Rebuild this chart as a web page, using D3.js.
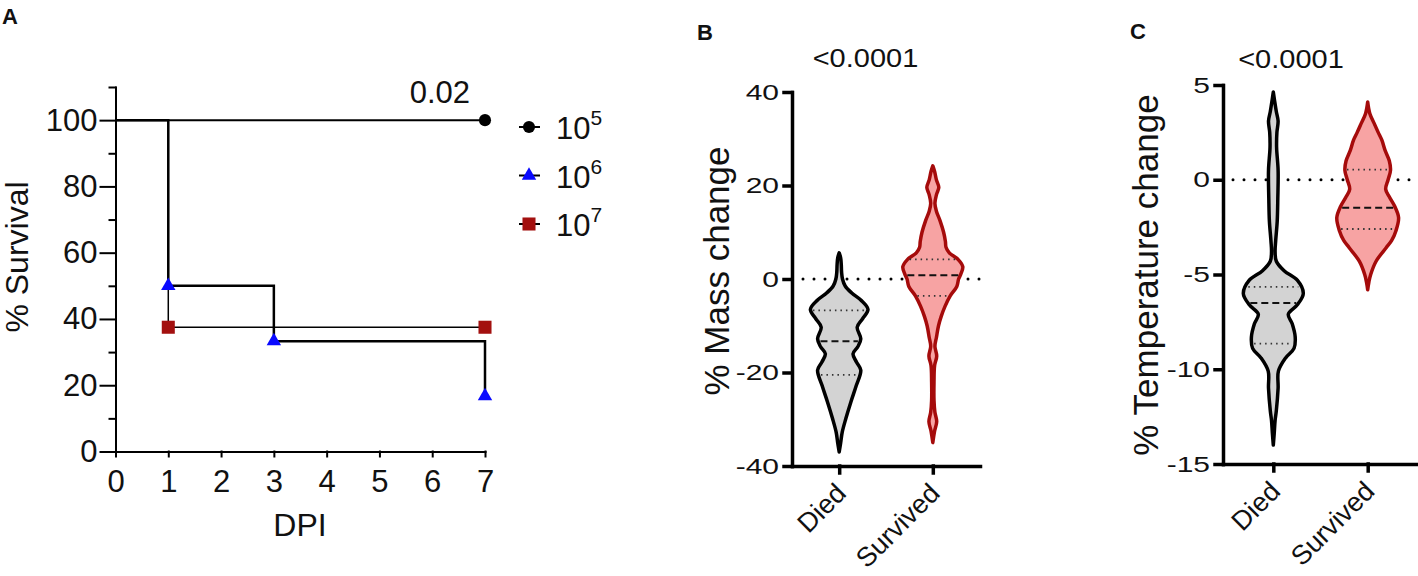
<!DOCTYPE html>
<html>
<head>
<meta charset="utf-8">
<script src="https://cdn.jsdelivr.net/npm/d3@7"></script>
<style>
body { margin: 0; background: #fff; }
svg text { font-family: "Liberation Sans", Arial, sans-serif; fill: #111; }
</style>
</head>
<body>
<svg id="fig" width="1418" height="576"></svg>
<script>
// ---------- Panel A data: survival by inoculum dose ----------
const doseLabels = ["5", "6", "7"];          // exponent of 10
const dpiTicks = [0, 1, 2, 3, 4, 5, 6, 7];
const survMajor = [0, 20, 40, 60, 80, 100];
const survMinor = [10, 30, 50, 70, 90, 110];
const days5 = [0, 7],       surv5 = [100, 100];
const days6 = [0, 1, 3, 7], surv6 = [100, 50, 33.3, 16.7];
const days7 = [0, 1, 7],    surv7 = [100, 37.5, 37.5];
const survivalP = "0.02";

// ---------- Panels B and C data ----------
const outcomes = ["Died", "Survived"];
const massTicks = [-40, -20, 0, 20, 40];
const tempTicks = [-15, -10, -5, 0, 5];
const massP = "<0.0001";
const tempP = "<0.0001";
// violin outlines: [value, relative density]
const massDied = [[5.6,0],[4.5,0.05],[3,0.07],[1.5,0.08],[0,0.11],[-1.5,0.2],[-3,0.42],[-4.5,0.72],[-6.5,0.96],[-8.5,0.78],[-10.3,0.6],[-12.8,0.72],[-14.5,0.62],[-16,0.46],[-17.8,0.58],[-19.5,0.72],[-22.8,0.57],[-26.3,0.39],[-29.9,0.22],[-32.8,0.1],[-35,0.05],[-37,0]];
const massSurvived = [[24.2,0],[23,0.06],[21.2,0.12],[19.6,0.2],[18,0.12],[16.2,0.07],[14.5,0.12],[12.5,0.24],[10,0.36],[8,0.42],[6.8,0.44],[5.6,0.55],[4.2,0.84],[2.6,1.0],[1,0.93],[0,0.86],[-1.6,0.8],[-3.6,0.58],[-5.8,0.41],[-8,0.28],[-10,0.19],[-12.5,0.12],[-14.4,0.07],[-16.5,0.13],[-18.5,0.06],[-22,0.04],[-26,0.04],[-28.5,0.07],[-30.5,0.13],[-32.5,0.06],[-35,0]];
const tempDied = [[4.63,0],[4.2,0.04],[3.6,0.1],[3.1,0.16],[2.5,0.12],[1.7,0.11],[0.5,0.16],[-1,0.15],[-2.2,0.13],[-3.2,0.08],[-3.8,0.06],[-4.3,0.1],[-4.8,0.36],[-5.3,0.8],[-6,1.0],[-6.6,0.8],[-7.1,0.5],[-7.6,0.63],[-8.3,0.73],[-8.9,0.69],[-9.4,0.41],[-10.1,0.17],[-11,0.16],[-12.2,0.1],[-12.7,0.06],[-13.4,0.03],[-14,0]];
const tempSurvived = [[4.1,0],[3.5,0.07],[2.96,0.22],[2.5,0.35],[2.1,0.47],[1.55,0.58],[1,0.72],[0.5,0.76],[0,0.68],[-0.5,0.6],[-0.9,0.72],[-1.4,0.9],[-2,1.03],[-2.7,0.94],[-3.2,0.8],[-3.6,0.61],[-4.3,0.28],[-5,0.1],[-5.4,0.04],[-5.8,0]];
// quartiles: [upper, median, lower]
const massDiedQ = [-6.7, -13.3, -20.5];
const massSurvivedQ = [4.2, 0.8, -3.6];
const tempDiedQ = [-5.65, -6.5, -8.65];
const tempSurvivedQ = [0.53, -1.48, -2.6];

const svg = d3.select("#fig");
const FONT = "'Liberation Sans', Arial, sans-serif";
const plain = d => String(d);   // hyphen minus, no decimals

function styleAxis(g, width, fontSize) {
  g.attr("font-family", FONT).attr("font-size", fontSize).attr("color", "#000");
  g.selectAll("path, line").attr("stroke-width", width).attr("stroke-linecap", "square");
}

// ================= Panel A =================
const xA = d3.scaleLinear().domain([0, 7]).range([115.5, 485]);
const yA = d3.scaleLinear().domain([0, 110]).range([451.5, 87]);

svg.append("text").text("A").attr("x", 2).attr("y", 24)
  .attr("font-size", 22).attr("font-weight", "bold");

svg.append("g").attr("transform", "translate(115.5,0)")
  .call(d3.axisLeft(yA).tickValues(survMajor).tickFormat(plain).tickSize(15).tickPadding(3).tickSizeOuter(0))
  .call(g => styleAxis(g, 2, 31));
svg.append("g").attr("transform", "translate(115.5,0)")
  .call(d3.axisLeft(yA).tickValues(survMinor).tickSize(6).tickFormat("").tickSizeOuter(0))
  .call(g => { styleAxis(g, 2, 31); g.select(".domain").remove(); });
svg.append("g").attr("transform", "translate(0,451.5)")
  .call(d3.axisBottom(xA).tickValues(dpiTicks).tickFormat(plain).tickSize(5).tickPadding(13).tickSizeOuter(0))
  .call(g => styleAxis(g, 2, 31));

svg.append("text").text("DPI").attr("x", 300).attr("y", 536)
  .attr("text-anchor", "middle").attr("font-size", 32);
svg.append("text").text("% Survival")
  .attr("transform", "translate(28,257) rotate(-90)")
  .attr("text-anchor", "middle").attr("font-size", 32);

const kmLine = d3.line().x(d => xA(d[0])).y(d => yA(d[1])).curve(d3.curveStepAfter);
const groups = [
  { days: days7, surv: surv7, sym: d3.symbolSquare, size: 170, color: "#a3100f", lw: 1.5 },
  { days: days6, surv: surv6, sym: d3.symbolTriangle, size: 90, color: "#0a0aff", lw: 2.5 },
  { days: days5, surv: surv5, sym: d3.symbolCircle, size: 115, color: "#000", lw: 2 }
];
groups.forEach(gr => {
  const pts = d3.zip(gr.days, gr.surv);
  svg.append("path").datum(pts).attr("d", kmLine)
    .attr("fill", "none").attr("stroke", "#000").attr("stroke-width", gr.lw);
  svg.append("g").selectAll("path").data(pts.slice(1)).join("path")
    .attr("transform", d => `translate(${xA(d[0])},${yA(d[1])})`)
    .attr("d", d3.symbol(gr.sym, gr.size)).attr("fill", gr.color);
});

svg.append("text").text(survivalP).attr("x", 470).attr("y", 103)
  .attr("text-anchor", "end").attr("font-size", 31);

// legend
const legendSyms = [
  { sym: d3.symbolCircle, size: 115, color: "#000" },
  { sym: d3.symbolTriangle, size: 90, color: "#0a0aff" },
  { sym: d3.symbolSquare, size: 170, color: "#a3100f" }
];
const legY = d3.scalePoint().domain(doseLabels).range([127, 224]);
doseLabels.forEach((e, i) => {
  const y = legY(e);
  svg.append("line").attr("x1", 519).attr("x2", 540).attr("y1", y).attr("y2", y)
    .attr("stroke", "#000").attr("stroke-width", 2);
  svg.append("path").attr("transform", `translate(529,${y})`)
    .attr("d", d3.symbol(legendSyms[i].sym, legendSyms[i].size)).attr("fill", legendSyms[i].color);
  const t = svg.append("text").attr("x", 556).attr("y", y + 12).attr("font-size", 31);
  t.append("tspan").text("10");
  t.append("tspan").text(e).attr("dy", -14).attr("font-size", 21);
});

// ================= Panels B & C =================
const halfW = d3.scaleLinear().domain([0, 1]).range([0, 30]);

function halfAt(profile, v) {
  for (let i = 0; i < profile.length - 1; i++) {
    const a = profile[i], b = profile[i + 1];
    if (v <= a[0] && v >= b[0]) {
      const t = (a[0] - v) / (a[0] - b[0]);
      return a[1] + t * (b[1] - a[1]);
    }
  }
  return 0;
}

function violinPanel(cfg) {
  const g = svg.append("g");
  const x = d3.scalePoint().domain(outcomes).range(cfg.xRange).padding(cfg.pad);
  const y = d3.scaleLinear().domain(cfg.yDomain).range(cfg.yRange);

  g.append("text").text(cfg.letter).attr("x", cfg.letterPos[0]).attr("y", cfg.letterPos[1])
    .attr("font-size", 22).attr("font-weight", "bold");

  // zero reference line
  g.append("line").attr("x1", cfg.zeroFrom).attr("x2", cfg.xRange[1])
    .attr("y1", y(0)).attr("y2", y(0))
    .attr("stroke", "#000").attr("stroke-width", 3)
    .attr("stroke-linecap", "round").attr("stroke-dasharray", "0 11");

  const series = [
    { key: "Died", prof: cfg.died, q: cfg.diedQ, fill: "#d3d3d3", stroke: "#000" },
    { key: "Survived", prof: cfg.surv, q: cfg.survQ, fill: "#f7a3a3", stroke: "#a50b0b" }
  ];
  const area = d3.area().curve(d3.curveCatmullRom.alpha(0.5))
    .y(d => y(d[0]));
  series.forEach(s => {
    const cx = x(s.key);
    g.append("path").datum(s.prof)
      .attr("d", area.x0(d => cx - halfW(d[1])).x1(d => cx + halfW(d[1])))
      .attr("fill", s.fill).attr("stroke", s.stroke).attr("stroke-width", 3.5)
      .attr("stroke-linejoin", "round");
    s.q.forEach((qv, i) => {
      const hw = Math.max(halfW(halfAt(s.prof, qv)) - 2, 0);
      g.append("line").attr("x1", cx - hw).attr("x2", cx + hw)
        .attr("y1", y(qv)).attr("y2", y(qv))
        .attr("stroke", i === 1 ? "#111" : "#333")
        .attr("stroke-width", i === 1 ? 2 : 1.8)
        .attr("stroke-dasharray", i === 1 ? "7 4" : "1.5 4");
    });
  });

  // axes
  g.append("g").attr("transform", `translate(${cfg.xRange[0]},0)`)
    .call(d3.axisLeft(y).tickValues(cfg.ticks).tickFormat(plain).tickSize(8).tickPadding(5).tickSizeOuter(0))
    .call(a => {
      styleAxis(a, 3.5, 30);
      a.selectAll("text").attr("transform", "scale(1,0.74)");
    });
  g.append("g").attr("transform", `translate(0,${cfg.yRange[0]})`)
    .call(d3.axisBottom(x).tickSize(7).tickSizeOuter(0))
    .call(a => {
      styleAxis(a, 3.5, 27);
      a.selectAll("text").attr("x", 0).attr("y", 0).attr("dy", 0)
        .attr("text-anchor", "end")
        .attr("transform", "translate(8,29) rotate(-45)");
    });

  g.append("text").text(cfg.p)
    .attr("transform", `translate(${cfg.pPos[0]},${cfg.pPos[1]}) scale(1,0.9)`)
    .attr("text-anchor", "middle").attr("font-size", 29);
  g.append("text").text(cfg.title)
    .attr("transform", `translate(${cfg.titlePos[0]},${cfg.titlePos[1]}) rotate(-90)`)
    .attr("text-anchor", "middle").attr("font-size", 35);
}

violinPanel({
  letter: "B", letterPos: [697, 40],
  xRange: [792, 980], pad: 0.504, yDomain: [-40, 40], yRange: [466, 92],
  ticks: massTicks, zeroFrom: 803,
  died: massDied, surv: massSurvived, diedQ: massDiedQ, survQ: massSurvivedQ,
  p: massP, pPos: [865.5, 67], title: "% Mass change", titlePos: [729, 271]
});
violinPanel({
  letter: "C", letterPos: [1130, 39],
  xRange: [1223, 1418], pad: 0.533, yDomain: [-15, 5], yRange: [464, 85],
  ticks: tempTicks, zeroFrom: 1233,
  died: tempDied, surv: tempSurvived, diedQ: tempDiedQ, survQ: tempSurvivedQ,
  p: tempP, pPos: [1291, 68], title: "% Temperature change", titlePos: [1158, 275]
});
</script>
</body>
</html>
